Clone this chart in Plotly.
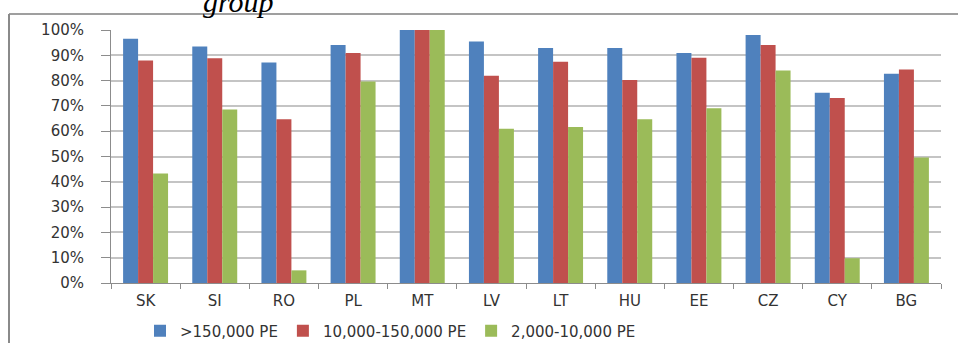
import plotly.graph_objects as go

# Share of load treated per agglomeration size group, by member state
countries = ["SK", "SI", "RO", "PL", "MT", "LV", "LT", "HU", "EE", "CZ", "CY", "BG"]
large_pe = [96.5, 93.5, 87.2, 94.1, 100, 95.5, 92.9, 92.9, 90.9, 98.0, 75.2, 82.7]
medium_pe = [87.9, 88.8, 64.7, 90.9, 100, 81.9, 87.5, 80.2, 89.0, 94.1, 73.1, 84.4]
small_pe = [43.3, 68.6, 5.0, 79.6, 100, 61.0, 61.7, 64.7, 69.1, 84.0, 9.8, 49.6]
series_names = [">150,000 PE", "10,000-150,000 PE", "2,000-10,000 PE"]
series_colors = ["#4F81BD", "#C0504D", "#9BBB59"]

W, H = 958, 343
ML, MR, MT_, MB = 111, 17, 30, 60
PW, PH = W - ML - MR, H - MT_ - MB


def px_x(x):
    return (x - ML) / PW


def px_y(y):
    return (H - MB - y) / PH


fig = go.Figure()
for name, vals, col in zip(series_names, [large_pe, medium_pe, small_pe], series_colors):
    fig.add_trace(go.Bar(
        x=countries,
        y=[v / 100 for v in vals],
        name=name,
        marker=dict(color=col, line=dict(width=0)),
    ))

font_family = "DejaVu Sans, Verdana, sans-serif"
axis_grey = "#8C8C8C"

fig.update_layout(
    width=W,
    height=H,
    margin=dict(l=ML, r=MR, t=MT_, b=MB, pad=0, autoexpand=False),
    paper_bgcolor="white",
    plot_bgcolor="white",
    barmode="group",
    bargap=0.35,
    bargroupgap=0,
    font=dict(family=font_family, size=15, color="#333333"),
    showlegend=True,
    legend=dict(
        orientation="h",
        x=px_x(140),
        xanchor="left",
        y=px_y(331),
        yanchor="middle",
        font=dict(family=font_family, size=15, color="#333333"),
        bgcolor="rgba(0,0,0,0)",
        itemwidth=30,
        traceorder="normal",
    ),
    xaxis=dict(
        type="category",
        showline=True,
        linecolor=axis_grey,
        linewidth=1,
        ticks="outside",
        tickson="boundaries",
        ticklen=5,
        tickcolor=axis_grey,
        showgrid=False,
        tickfont=dict(family=font_family, size=15, color="#333333"),
        ticklabelstandoff=4,
    ),
    yaxis=dict(
        range=[0, 1],
        dtick=0.1,
        tickformat=".0%",
        showline=True,
        linecolor=axis_grey,
        linewidth=1,
        ticks="outside",
        ticklen=9,
        tickcolor=axis_grey,
        showgrid=True,
        gridcolor="#C4C4C4",
        gridwidth=1.5,
        zeroline=False,
        tickfont=dict(family=font_family, size=15, color="#333333"),
        ticklabelstandoff=14,
    ),
)

# Outer frame of the chart box (top and left edges)
fig.add_shape(type="line", xref="paper", yref="paper",
              x0=px_x(9), x1=px_x(958), y0=px_y(14), y1=px_y(14),
              line=dict(color="#7F7F7F", width=1.5), layer="above")
fig.add_shape(type="line", xref="paper", yref="paper",
              x0=px_x(9), x1=px_x(9), y0=px_y(14), y1=px_y(343),
              line=dict(color="#8A8A8A", width=2), layer="above")

# Trailing word of the caption above the frame
fig.add_annotation(
    text="group",
    xref="paper", yref="paper",
    x=px_x(238), y=px_y(2),
    xanchor="center", yanchor="middle",
    showarrow=False,
    font=dict(family="Liberation Serif, Times New Roman, serif", size=30,
              color="#000000", style="italic"),
)

fig.write_html("out.html")
